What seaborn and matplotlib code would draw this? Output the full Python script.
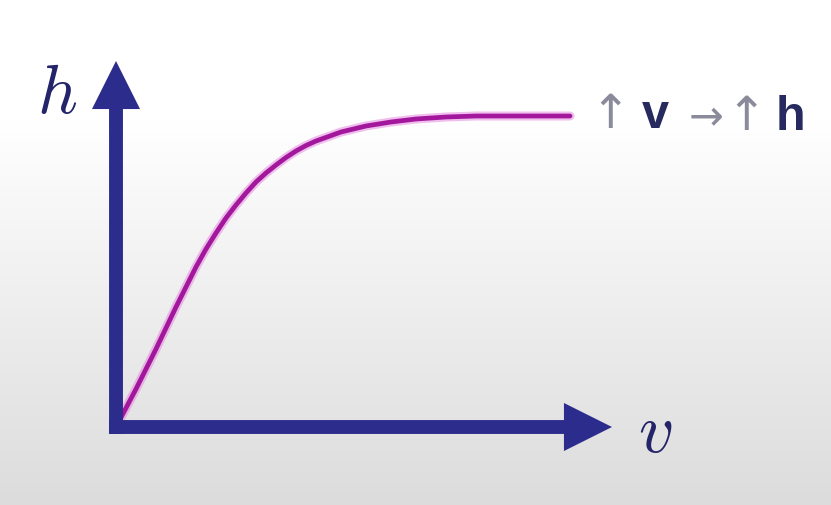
import numpy as np
import matplotlib
matplotlib.use("Agg")
import matplotlib.pyplot as plt
import seaborn as sns

# Curve h(v): rises almost linearly, then levels off
v_values = [0.0, 0.4, 0.8, 1.2, 1.6, 1.8, 2.0, 2.2, 2.4, 2.6, 2.8, 3.0,
            3.2, 3.4, 3.6, 3.8, 4.0, 4.5, 5.0, 5.5, 6.0, 6.6, 7.2, 8.0, 9.08]
h_values = [0.0, 0.76, 1.56, 2.40, 3.20, 3.56, 3.88, 4.18, 4.44, 4.68,
            4.90, 5.08, 5.24, 5.39, 5.52, 5.63, 5.72, 5.90, 6.02, 6.10,
            6.16, 6.20, 6.22, 6.22, 6.22]

x_label = "$v$"
y_label = "$h$"
note_parts = ["\u2191", "v", "\u2192", "\u2191", "h"]

sns.set_style("white")
plt.rcParams["mathtext.fontset"] = "cm"

W, H = 831, 506
fig = plt.figure(figsize=(W / 100, H / 100), dpi=100)

# soft white-to-grey backdrop
bg = fig.add_axes([0, 0, 1, 1], zorder=0)
rows = np.arange(H)
shade = np.where(rows < 120, 255, 255 - (rows - 120) / (H - 120) * 35)
grad = np.repeat(shade[:, None], 2, axis=1) / 255.0
bg.imshow(np.dstack([grad, grad, grad]), aspect="auto", extent=[0, 1, 0, 1],
          interpolation="bilinear")
bg.set_axis_off()

ox, oy = 116, 428          # origin in pixels (from top-left)
tip_x, tip_y = 612, 62
ax = fig.add_axes([ox / W, (H - oy) / H, (tip_x - ox) / W, (oy - tip_y) / H],
                  zorder=1)
ax.patch.set_alpha(0)
xmax, ymax = (tip_x - ox) / 50, (oy - tip_y) / 50
ax.set_xlim(0, xmax)
ax.set_ylim(0, ymax)
ax.set_axis_off()

# curve with a faint pink glow
sns.lineplot(x=v_values, y=h_values, ax=ax, color="#e58be0", lw=6.5,
             alpha=0.55, zorder=2, sort=False)
sns.lineplot(x=v_values, y=h_values, ax=ax, color="#a3179c", lw=3.4,
             zorder=3, sort=False)

axis_color = "#2b2c8c"
arrow_style = "simple,head_length=1.73,head_width=1.73,tail_width=0.5"
for xy, start in [((xmax, 0), (-0.14, 0)), ((0, ymax), (0, -0.14))]:
    ax.annotate("", xy=xy, xytext=start, xycoords="data",
                arrowprops=dict(arrowstyle=arrow_style, mutation_scale=20,
                                fc=axis_color, ec="none", lw=0,
                                shrinkA=0, shrinkB=0),
                annotation_clip=False, zorder=4)

def fx(px):
    return px / W

def fy(py):
    return 1 - py / H

label_color = "#24246a"
fig.text(fx(57), fy(113), y_label, ha="center", va="baseline",
         fontsize=50, color=label_color, zorder=5)
fig.text(fx(655), fy(452), x_label, ha="center", va="baseline",
         fontsize=50, color=label_color, zorder=5)

# note at the end of the curve
note_color = "#262a5e"
arrow_grey = "#8a8a9a"
fig.text(fx(610), fy(115), note_parts[0], ha="center", va="center",
         fontsize=34, color=arrow_grey, family="DejaVu Sans", zorder=5)
fig.text(fx(655), fy(128), note_parts[1], ha="center", va="baseline",
         fontsize=35, color=note_color, family="Liberation Sans",
         weight="bold", zorder=5)
fig.text(fx(706), fy(117), note_parts[2], ha="center", va="center",
         fontsize=30, color=arrow_grey, family="DejaVu Sans", zorder=5)
fig.text(fx(746), fy(117), note_parts[3], ha="center", va="center",
         fontsize=34, color=arrow_grey, family="DejaVu Sans", zorder=5)
fig.text(fx(790), fy(130), note_parts[4], ha="center", va="baseline",
         fontsize=35, color=note_color, family="Liberation Sans",
         weight="bold", zorder=5)

fig.savefig("out.png", dpi=100)
